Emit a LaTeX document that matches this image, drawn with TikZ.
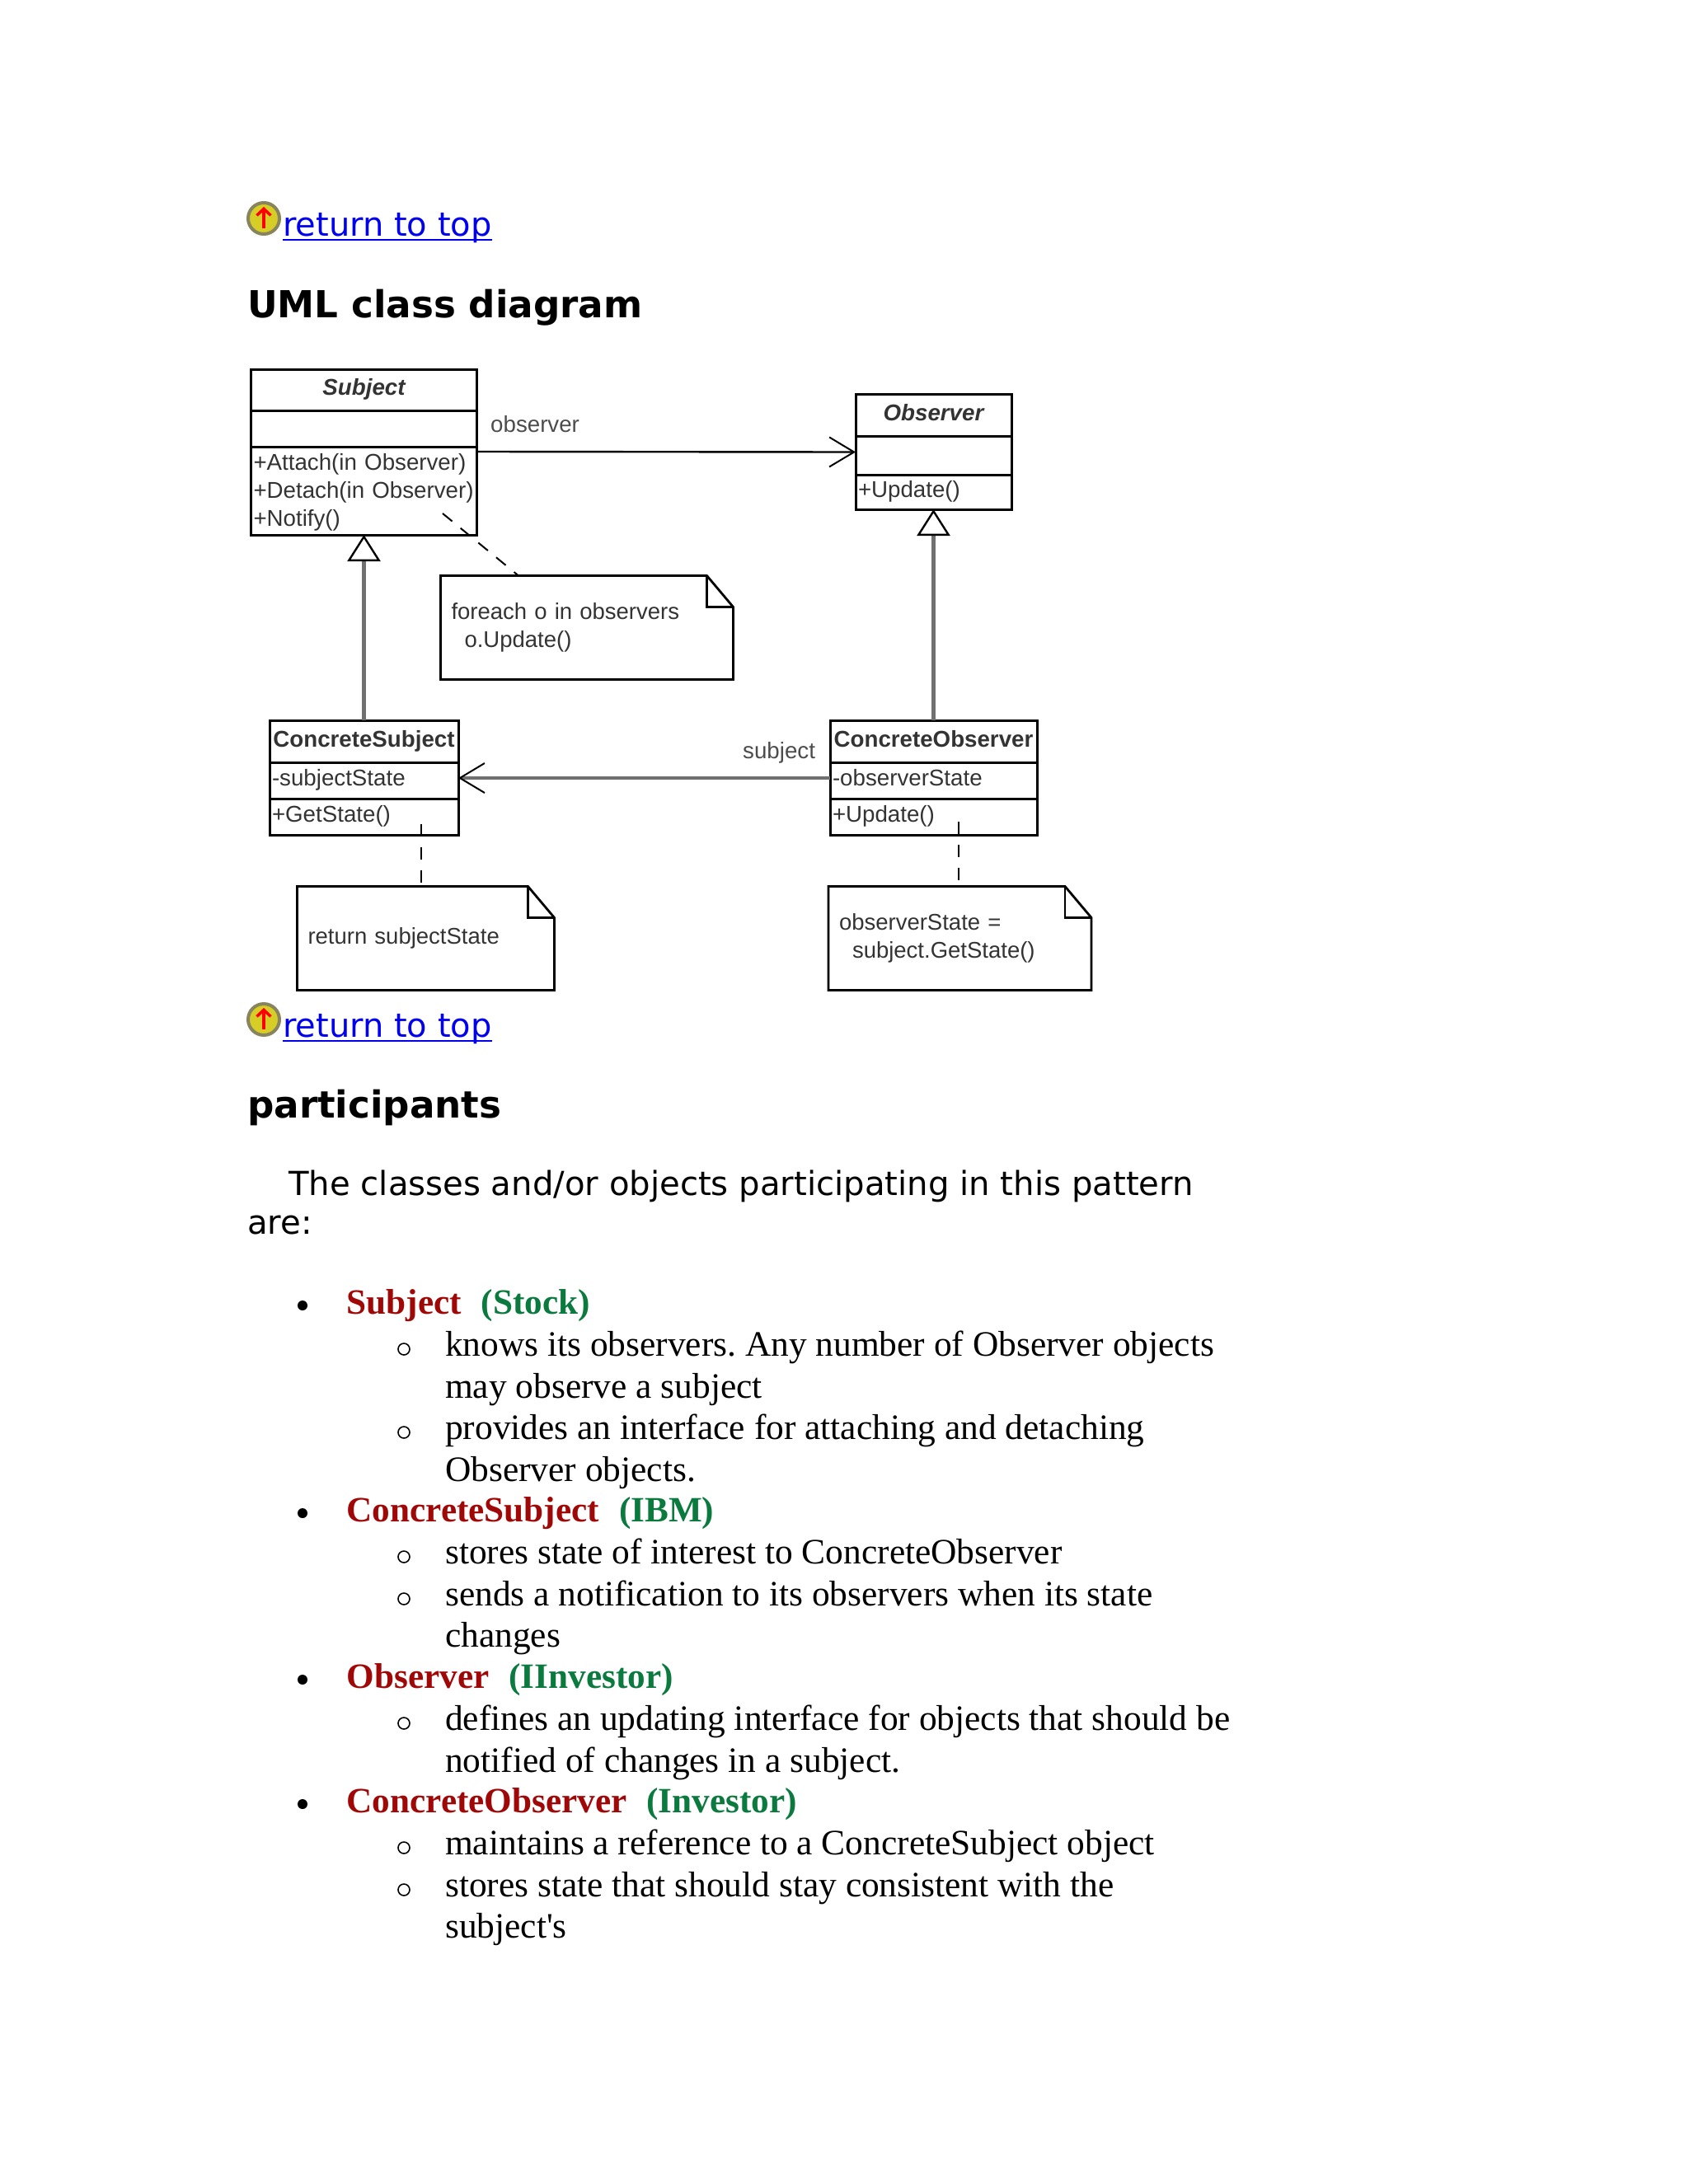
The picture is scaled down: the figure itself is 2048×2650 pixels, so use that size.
\documentclass[tikz,border=0pt]{standalone}
\usepackage{fontspec}
\setmainfont{DejaVu Sans}
\newfontfamily\umlfont{Liberation Sans}
\newfontfamily\listfont{Liberation Serif}
\usepackage{xcolor}
\usetikzlibrary{positioning, arrows.meta, calc}
\definecolor{linkblue}{HTML}{0000EE}
\definecolor{namered}{HTML}{A00808}
\definecolor{namegreen}{HTML}{0B7A3E}
\definecolor{inherit}{HTML}{707070}
\newcommand{\foldnote}[1]{
    \draw[noteline] (#1.south west) -- (#1.north west) -- ([xshift=-32pt]#1.north east) -- ([yshift=-38pt]#1.north east) -- (#1.south east) -- cycle;
    \draw[noteline] ([xshift=-32pt]#1.north east) |- ([yshift=-38pt]#1.north east);
}
\begin{document}
\begin{tikzpicture}[x=1pt, y=-1pt, node distance=0pt,
    toplink/.style={anchor=base west, inner sep=0pt, text=linkblue, font=\fontsize{40}{46}\selectfont},
    linkrule/.style={draw=linkblue, line width=2.4pt},
    topicon/.style={circle, draw=black!55!yellow!70!gray, fill=yellow!82!black, line width=4pt, minimum size=38pt, inner sep=0pt},
    uparrow/.style={-{Straight Barb[length=8pt, width=17pt, line width=3.5pt]}, red, line width=3.5pt},
    heading/.style={anchor=base west, inner sep=0pt, font=\fontsize{45.2}{54}\bfseries\selectfont},
    para/.style={anchor=base west, inner sep=0pt, font=\fontsize{40.2}{46}\selectfont},
    classrow/.style={draw=black, line width=3pt, outer sep=0pt, inner xsep=3pt, inner ysep=0pt, align=left, text=black!80, font=\umlfont\fontsize{27.7}{33.7}\selectfont, execute at begin node=\strut},
    classname/.style={classrow, align=center},
    notebox/.style={outer sep=0pt, inner xsep=13pt, inner ysep=0pt, align=left, text=black!80, font=\umlfont\fontsize{27.5}{33.7}\selectfont},
    noteline/.style={draw=black, line width=2.8pt, line join=miter},
    rolelabel/.style={anchor=base west, inner sep=0pt, text=black!70, font=\umlfont\fontsize{27.7}{33}\selectfont},
    assoc/.style={-{Straight Barb[length=30pt, width=36pt, line width=2pt, color=black]}},
    generalize/.style={inherit, line width=4.5pt, -{Triangle[open, length=32pt, width=40pt, line width=2.4pt, color=black, fill=white]}},
    notelink/.style={line width=2pt, dash pattern=on 15pt off 13pt},
    lead/.style={anchor=base west, inner sep=0pt, font=\listfont\bfseries\fontsize{43.2}{50}\selectfont},
    item/.style={anchor=base west, inner sep=0pt, font=\listfont\fontsize{43.4}{50}\selectfont\frenchspacing},
    bullet/.style={circle, fill=black, minimum size=12pt, inner sep=0pt},
    subbullet/.style={circle, draw=black, line width=1.6pt, minimum size=14pt, inner sep=0pt}]

    \useasboundingbox (0,0) rectangle (2048,2650);

    \node (icontop) [topicon] at (320,265) {};
    \draw[uparrow] ([yshift=-12pt]icontop.center) -- ([yshift=14pt]icontop.center);
    \node (linktop) [toplink] at (343,286) {return to top};
    \draw[linkrule] ([yshift=-5pt]linktop.base west) -- ([yshift=-5pt]linktop.base east);
    \node (umlhead) [heading] at (300,385) {UML class diagram};

    \node (subject) [classname, text width=268pt, minimum height=50pt] at (441.5,473) {\bfseries\itshape Subject};
    \node (subjectattr) [classrow, text width=268pt, minimum height=44pt, below=of subject] {};
    \node (subjectops) [classrow, text width=268pt, minimum height=107pt, below=of subjectattr] {+Attach(in Observer)\\+Detach(in Observer)\\+Notify()};

    \node (observer) [classname, text width=183pt, minimum height=51pt] at (1132.5,503.5) {\bfseries\itshape Observer};
    \node (observerattr) [classrow, text width=183pt, minimum height=47pt, below=of observer] {};
    \node (observerops) [classrow, text width=183pt, minimum height=42pt, below=of observerattr] {+Update()};

    \node (csubject) [classname, text width=223pt, minimum height=51pt] at (441.5,899.5) {\bfseries ConcreteSubject};
    \node (csubjectattr) [classrow, text width=223pt, minimum height=44pt, below=of csubject] {-subjectState};
    \node (csubjectops) [classrow, text width=223pt, minimum height=44pt, below=of csubjectattr] {+GetState()};

    \node (cobserver) [classname, text width=245pt, minimum height=51pt] at (1132.5,899.5) {\bfseries ConcreteObserver};
    \node (cobserverattr) [classrow, text width=245pt, minimum height=44pt, below=of cobserver] {-observerState};
    \node (cobserverops) [classrow, text width=245pt, minimum height=44pt, below=of cobserverattr] {+Update()};

    \node (noteupdate) [notebox, text width=329pt, minimum height=126pt] at (712,761.5) {foreach o in observers\\\hspace*{16pt}o.Update()};
    \node (notereturn) [notebox, text width=286pt, minimum height=126pt] at (516.5,1138.5) {return subjectState};
    \node (notestate) [notebox, text width=293pt, minimum height=126pt] at (1164.5,1138.5) {observerState =\\\hspace*{16pt}subject.GetState()};
    \foldnote{noteupdate}
    \foldnote{notereturn}
    \foldnote{notestate}

    \node (rolea) [rolelabel] at (595,524) {observer};
    \node (roleb) [rolelabel] at (901,920) {subject};

    \draw[assoc, line width=2.4pt] ([yshift=-6pt]subjectops.north east) -- ([yshift=4pt]observerattr.west);
    \draw[assoc, inherit, line width=4.5pt] ([yshift=3pt]cobserverattr.west) -- ([yshift=3pt]csubjectattr.east);
    \draw[generalize] (csubject.north) -- (subjectops.south);
    \draw[generalize] (cobserver.north) -- (observerops.south);

    \coordinate (pinupdate) at (537,623);
    \coordinate (pinreturn) at (511,1000);
    \coordinate (pinstate) at (1163,997);
    \draw[notelink] (pinupdate) -- ([xshift=-83pt]noteupdate.north);
    \draw[notelink] (pinreturn) -- (pinreturn |- notereturn.north);
    \draw[notelink] (pinstate) -- (pinstate |- notestate.north);

    \node (iconbottom) [topicon] at (320,1237) {};
    \draw[uparrow] ([yshift=-12pt]iconbottom.center) -- ([yshift=14pt]iconbottom.center);
    \node (linkbottom) [toplink] at (343,1258) {return to top};
    \draw[linkrule] ([yshift=-5pt]linkbottom.base west) -- ([yshift=-5pt]linkbottom.base east);
    \node (parthead) [heading] at (300,1356) {participants};

    \node (introa) [para] at (350,1450) {The classes and/or objects participating in this pattern};
    \node (introb) [para] at (300,1497) {are:};

    \node (bulleta) [bullet] at (367,1584) {};
    \node (leada) [lead] at (420.5,1594) {\textcolor{namered}{Subject}\hspace{24pt}\textcolor{namegreen}{(Stock)}};
    \node (suba) [subbullet] at (490,1637) {};
    \node (itema) [item] at (540,1645) {knows its observers. Any number of Observer objects};
    \node (itemb) [item] at (540,1696) {may observe a subject};
    \node (subb) [subbullet] at (490,1738) {};
    \node (itemc) [item] at (540,1746) {provides an interface for attaching and detaching};
    \node (itemd) [item] at (540,1797) {Observer objects.};

    \node (bulletb) [bullet] at (367,1836) {};
    \node (leadb) [lead] at (420.5,1846) {\textcolor{namered}{ConcreteSubject}\hspace{24pt}\textcolor{namegreen}{(IBM)}};
    \node (subc) [subbullet] at (490,1889) {};
    \node (iteme) [item] at (540,1897) {stores state of interest to ConcreteObserver};
    \node (subd) [subbullet] at (490,1940) {};
    \node (itemf) [item] at (540,1948) {sends a notification to its observers when its state};
    \node (itemg) [item] at (540,1998) {changes};

    \node (bulletc) [bullet] at (367,2038) {};
    \node (leadc) [lead] at (420.5,2048) {\textcolor{namered}{Observer}\hspace{24pt}\textcolor{namegreen}{(IInvestor)}};
    \node (sube) [subbullet] at (490,2091) {};
    \node (itemh) [item] at (540,2099) {defines an updating interface for objects that should be};
    \node (itemi) [item] at (540,2150) {notified of changes in a subject.};

    \node (bulletd) [bullet] at (367,2189) {};
    \node (leadd) [lead] at (420.5,2199) {\textcolor{namered}{ConcreteObserver}\hspace{24pt}\textcolor{namegreen}{(Investor)}};
    \node (subf) [subbullet] at (490,2242) {};
    \node (itemj) [item] at (540,2250) {maintains a reference to a ConcreteSubject object};
    \node (subg) [subbullet] at (490,2293) {};
    \node (itemk) [item] at (540,2301) {stores state that should stay consistent with the};
    \node (iteml) [item] at (540,2351) {subject's};

\end{tikzpicture}
\end{document}
